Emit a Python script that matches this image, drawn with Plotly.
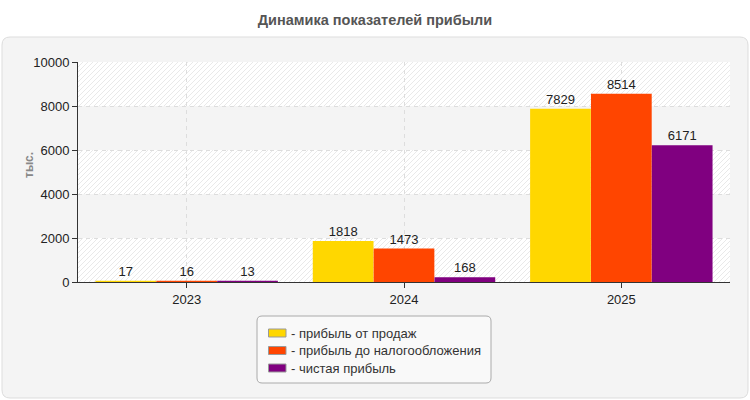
import base64
import plotly.graph_objects as go

years = ["2023", "2024", "2025"]
series_names = ["- прибыль от продаж", "- прибыль до налогообложения", "- чистая прибыль"]
sales_profit = [17, 1818, 7829]
pretax_profit = [16, 1473, 8514]
net_profit = [13, 168, 6171]
colors = ["#FFD700", "#FF4500", "#800080"]
y_ticks = [0, 2000, 4000, 6000, 8000, 10000]

W, H = 750, 400
L, R, T, B = 78, 20, 62, 118
pw, ph = W - L - R, H - T - B

def px_x(p):
    return (p - L) / pw

def px_y(p):
    return (H - B - p) / ph

fig = go.Figure()

for name, vals, c in zip(series_names, [sales_profit, pretax_profit, net_profit], colors):
    fig.add_trace(go.Bar(
        x=years, y=vals, name=name, showlegend=False,
        marker=dict(color=c, line=dict(color=c, width=2)),
        text=[str(v) for v in vals], textposition="outside",
        textfont=dict(size=13, color="#222222"), cliponaxis=False,
    ))

# hatched bands as svg images under gridlines
band_px_h = round(ph * (y_ticks[1] - y_ticks[0]) / (y_ticks[-1] - y_ticks[0]))
svg = (f'<svg xmlns="http://www.w3.org/2000/svg" width="{pw}" height="{band_px_h}">'
       '<defs><pattern id="h" patternUnits="userSpaceOnUse" width="5" height="5">'
       '<rect width="5" height="5" fill="#ffffff"/>'
       '<path d="M0,5 L5,0 M-1,1 L1,-1 M4,6 L6,4" stroke="#e9e9e9" stroke-width="1"/>'
       '</pattern></defs>'
       f'<rect width="{pw}" height="{band_px_h}" fill="url(#h)"/></svg>')
src = "data:image/svg+xml;base64," + base64.b64encode(svg.encode()).decode()
images = []
for top in y_ticks[1::2]:
    images.append(dict(source=src, xref="x domain", yref="y", x=0, y=top,
                       sizex=1, sizey=y_ticks[1] - y_ticks[0], sizing="stretch",
                       xanchor="left", yanchor="top", layer="below"))

def rounded(xa, xb, ya, yb, r):
    x0, x1 = px_x(xa), px_x(xb)
    y0, y1 = px_y(yb), px_y(ya)
    rx, ry = r / pw, r / ph
    return (f"M {x0+rx},{y1} L {x1-rx},{y1} Q {x1},{y1} {x1},{y1-ry} "
            f"L {x1},{y0+ry} Q {x1},{y0} {x1-rx},{y0} L {x0+rx},{y0} "
            f"Q {x0},{y0} {x0},{y0+ry} L {x0},{y1-ry} Q {x0},{y1} {x0+rx},{y1} Z")

shapes = [dict(type="path", path=rounded(2, 748, 37, 398, 8), xref="paper", yref="paper",
               fillcolor="#f4f4f4", line=dict(color="#dddddd", width=1), layer="below")]

annotations = [dict(text="<b>тыс.</b>", textangle=-90, x=px_x(20), y=px_y(165),
                    xref="paper", yref="paper", showarrow=False,
                    font=dict(size=12, color="#888888"))]

# custom legend
shapes.append(dict(type="path", path=rounded(257, 491, 316, 383, 5), xref="paper", yref="paper",
                   fillcolor="#f9f9f9", line=dict(color="#aaaaaa", width=1), layer="above"))
row_y = [333, 350.5, 368]
for name, c, ry in zip(series_names, colors, row_y):
    shapes.append(dict(type="rect", xref="paper", yref="paper",
                       x0=px_x(268.5), x1=px_x(286), y0=px_y(ry + 4), y1=px_y(ry - 4),
                       fillcolor=c, line=dict(color="#999999", width=1), layer="above"))
    annotations.append(dict(text=name, x=px_x(289), y=px_y(ry), xref="paper", yref="paper",
                            xanchor="left", yanchor="middle", showarrow=False,
                            font=dict(size=13, color="#333333")))

fig.update_layout(
    width=W, height=H,
    margin=dict(l=L, r=R, t=T, b=B),
    paper_bgcolor="#ffffff",
    plot_bgcolor="#fcfcf6",
    font=dict(family="Liberation Sans, Arial, sans-serif", size=13, color="#222222"),
    title=dict(text="<b>Динамика показателей прибыли</b>", x=0.5, xanchor="center",
               y=1 - 20 / H, yanchor="middle", yref="container",
               font=dict(size=14.5, color="#555555")),
    barmode="group", bargap=0.16, bargroupgap=0.035,
    shapes=shapes, images=images, annotations=annotations,
    showlegend=False,
    xaxis=dict(type="category", showline=True, linecolor="#333333",
               linewidth=1, ticks="outside", ticklen=5, tickcolor="#333333",
               showgrid=True, gridcolor="#dddddd", griddash="4px,4px",
               tickfont=dict(size=13, color="#222222")),
    yaxis=dict(range=[0, 10000], tickvals=y_ticks, ticktext=[str(v) for v in y_ticks],
               showline=True, linecolor="#333333", linewidth=1,
               ticks="outside", ticklen=5, tickcolor="#333333",
               showgrid=True, gridcolor="#dddddd", griddash="4px,4px",
               zeroline=False, tickfont=dict(size=13, color="#222222")),
)

fig.write_html("out.html")
